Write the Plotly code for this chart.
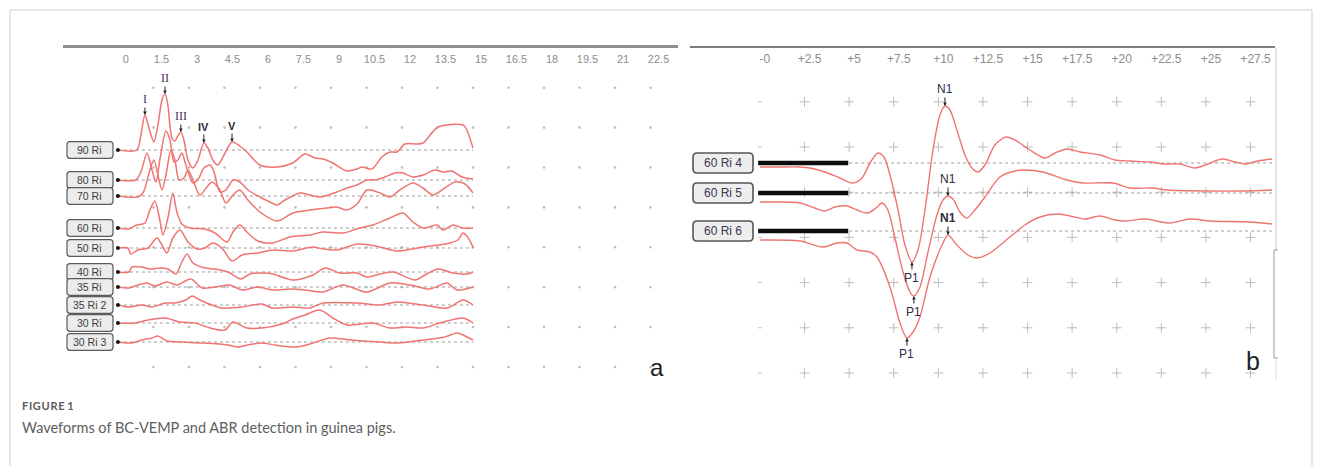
import numpy as np
import plotly.graph_objects as go

W, H = 1322, 466

# ---------------- Panel a: ABR waveforms ----------------
abr_names = ["90 Ri", "80 Ri", "70 Ri", "60 Ri", "50 Ri", "40 Ri", "35 Ri", "35 Ri 2", "30 Ri", "30 Ri 3"]
abr_offsets = [23.0, 20.0, 18.4, 15.2, 13.2, 10.8, 9.3, 7.5, 5.7, 3.8]

t_90 = [0.0, 0.80, 0.97, 1.14, 1.31, 1.52, 1.69, 1.86, 1.99, 2.11, 2.28, 2.41, 2.53, 2.66, 2.79, 2.96,
        3.17, 3.38, 3.63, 3.80, 4.01, 4.22, 4.48, 4.82, 5.15, 5.49, 6.00, 6.72, 7.39, 7.90, 8.32, 8.66,
        9.08, 9.67, 10.10, 10.31, 10.73, 11.15, 11.49, 11.79, 12.12, 12.63, 12.89, 13.52, 14.58, 14.74, 15.0]
a_90 = [0, 0, 1.5, 3.5, 2.2, 0.8, 2.5, 5.0, 5.6, 4.5, 1.2, 0.9, 1.4, 1.8, 1.0, -1.0,
        -1.8, -1.0, 0.7, 0.2, -1.0, -1.5, -0.5, 0.8, 0.4, -0.3, -1.5, -1.7, -1.3, -0.4, -0.8, -0.9,
        -1.3, -2.1, -1.9, -1.7, -1.9, -0.7, -0.2, -0.2, 0.6, 0.6, 0.7, 2.3, 2.5, 2.0, 0.2]

t_80 = [0.0, 0.76, 0.97, 1.23, 1.44, 1.61, 1.77, 2.03, 2.20, 2.37, 2.53, 2.70, 2.87, 3.17, 3.42, 3.63,
        3.89, 4.06, 4.31, 4.56, 4.86, 5.15, 5.49, 6.00, 6.42, 6.72, 7.06, 7.69, 8.11, 8.53, 9.25, 9.67,
        10.10, 10.52, 10.86, 11.28, 11.70, 12.04, 12.46, 12.89, 13.39, 13.73, 14.11, 14.53, 15.0]
a_80 = [0, 0, 0.8, 2.7, 1.0, -0.2, 2.0, 4.9, 4.0, 1.8, 2.0, 2.7, 1.5, -0.3, 0.2, 1.2,
        1.5, 0.8, -1.2, -1.0, 0, -0.2, -1.0, -1.7, -2.2, -2.5, -2.0, -1.3, -1.5, -1.7, -1.2, -0.8,
        -0.5, 0, 0, 0.3, 0.7, 0.7, 0.3, 0.5, 1.0, 0.8, 0.9, 0.3, 0.1]

t_70 = [0.0, 0.84, 1.06, 1.35, 1.52, 1.69, 1.86, 2.03, 2.24, 2.41, 2.58, 2.79, 2.96, 3.17, 3.46, 3.76,
        3.97, 4.31, 4.56, 4.86, 5.15, 5.49, 6.00, 6.72, 7.39, 8.11, 8.83, 9.25, 9.67, 10.10, 10.52, 11.07,
        11.49, 11.91, 12.46, 12.89, 13.31, 13.81, 14.24, 14.66, 15.0]
a_70 = [0, -0.1, 0.3, 2.6, 3.6, 2.1, 0.6, 2.1, 4.6, 3.6, 1.6, 1.8, 2.6, 1.6, 0.1, 0.9,
        1.4, 0.6, -0.7, 0.1, 0.6, -0.4, -1.6, -2.5, -1.7, -1.4, -1.2, -1.1, -1.4, -0.8, 0.6, 0.3,
        -0.1, 0.6, 1.3, 0.8, 0.1, 0.8, 1.4, 1.2, 0.3]

t_60 = [0.0, 0.46, 0.80, 1.14, 1.35, 1.56, 1.77, 1.90, 2.11, 2.32, 2.49, 2.70, 3.04, 3.68, 4.10, 4.61,
        4.86, 5.15, 5.49, 5.91, 6.51, 7.27, 8.11, 8.66, 9.51, 10.22, 10.77, 11.49, 12.04, 12.46, 12.89, 13.48,
        13.73, 14.15, 14.58, 15.0]
a_60 = [0, -0.1, 0.3, 0.5, 1.8, 2.7, 0.8, -0.7, 1.0, 3.5, 1.6, 0.4, 0, -0.1, -0.5, -1.4,
        -0.4, 0.3, -0.5, -1.3, -1.5, -0.9, -0.7, -0.4, -0.5, 0, 0.3, 1.0, 1.5, 0.6, 0, 0.3,
        -0.2, 0.3, 0, 0]

t_50 = [0.0, 0.42, 0.55, 0.84, 1.27, 1.65, 1.86, 2.07, 2.32, 2.62, 2.96, 3.34, 3.68, 4.01, 4.39, 4.82,
        5.24, 5.91, 6.55, 7.39, 8.24, 8.66, 9.25, 10.10, 10.65, 11.07, 11.79, 12.89, 14.03, 14.36, 14.58, 14.74,
        15.0]
a_50 = [0, 0, -0.6, -0.2, 0, 1.0, 0.3, -0.5, 1.0, 1.8, 0.6, -0.1, 0, 0.5, 0, -1.3,
        -0.7, -0.5, -0.2, -0.3, 0.1, -0.1, -0.2, 0.4, 0.3, 0.1, -0.3, 0.1, 0.5, 0.8, 1.5, 1.2,
        0.1]

t_40 = [0.0, 0.46, 0.59, 1.01, 1.35, 1.77, 2.11, 2.45, 2.70, 2.92, 3.17, 3.68, 4.10, 4.65, 5.20, 5.58,
        6.21, 6.55, 7.39, 8.24, 8.75, 9.38, 10.10, 10.52, 11.07, 11.62, 12.55, 12.97, 13.52, 14.15, 14.74, 15.0]
a_40 = [0, 0, 0.5, 0.5, 0.3, 0.4, 0.3, -0.2, 1.0, 1.8, 0.9, 0.4, 0.3, 0, -0.7, -0.2,
        -0.1, -0.2, -0.8, -0.3, 0.4, -0.1, -0.1, -0.5, -0.2, 0, -0.8, -0.3, 0.3, -0.1, -0.2, 0]

t_35 = [0.0, 0.46, 0.84, 1.23, 1.56, 2.07, 2.49, 3.08, 3.55, 4.10, 4.73, 5.24, 5.91, 6.51, 7.27, 7.90,
        8.66, 9.51, 10.52, 11.49, 12.34, 13.18, 13.90, 14.32, 15.0]
a_35 = [0, -0.1, 0.2, 0.4, 0.1, 0.5, 0.2, 0.8, -0.1, 0, 0.2, -0.3, 0, -0.3, -0.2, -0.3,
        -0.5, 0.2, -0.5, 0.4, 0.2, -0.2, 0.4, -0.3, 0]

t_35b = [0.0, 0.46, 1.01, 1.44, 1.99, 2.41, 2.87, 3.13, 3.46, 3.97, 4.39, 5.24, 6.08, 6.51, 7.39, 8.11,
         8.66, 10.10, 11.07, 11.79, 12.89, 13.90, 14.58, 15.0]
a_35b = [0, -0.2, 0, -0.2, 0.2, 0.2, 0.5, 0.9, 0.5, 0, -0.3, -0.2, 0.1, -0.3, -0.2, -0.3,
         0.2, 0.2, 0, 0.3, 0, -0.3, 0.5, 0]

t_30 = [0.0, 0.72, 1.27, 1.99, 2.62, 3.25, 3.89, 4.52, 4.86, 5.45, 6.08, 6.93, 7.39, 7.90, 8.53, 9.08,
        9.67, 10.77, 11.49, 12.21, 12.89, 13.60, 14.58, 15.0]
a_30 = [0, 0, 0.3, 0.5, 0.1, 0, -0.5, -0.7, 0.1, -0.5, -0.5, -0.1, 0.4, 0.8, 1.3, 0.5,
        -0.2, 0, -0.5, -0.4, -0.5, 0, 0.5, 0]

t_30b = [0.0, 0.55, 1.01, 1.44, 1.69, 2.07, 2.70, 3.55, 4.65, 5.07, 5.49, 6.08, 6.63, 7.56, 8.11, 8.96,
         9.80, 11.07, 11.79, 12.89, 13.81, 14.32, 14.58, 15.0]
a_30b = [0, -0.1, 0.2, 0.4, 0.6, 0.1, 0, -0.1, -0.3, -0.5, -0.3, -0.1, -0.3, -0.5, -0.2, 0.4,
         0.2, 0, -0.1, 0.2, 0.5, 0.9, 0.7, 0.2]

abr_t = [t_90, t_80, t_70, t_60, t_50, t_40, t_35, t_35b, t_30, t_30b]
abr_a = [a_90, a_80, a_70, a_60, a_50, a_40, a_35, a_35b, a_30, a_30b]

abr_peaks = ["I", "II", "III", "IV", "V"]
abr_peak_lat = [1.14, 1.99, 2.66, 3.63, 4.82]

abr_ticks = [0, 1.5, 3, 4.5, 6, 7.5, 9, 10.5, 12, 13.5, 15, 16.5, 18, 19.5, 21, 22.5]
abr_ticktext = ["0", "1.5", "3", "4.5", "6", "7.5", "9", "10.5", "12", "13.5", "15",
                "16.5", "18", "19.5", "21", "22.5"]

# ---------------- Panel b: BC-VEMP waveforms ----------------
vemp_names = ["60 Ri 4", "60 Ri 5", "60 Ri 6"]
vemp_offsets = [21.7, 18.7, 14.9]

t_v4 = [0, 1.12, 2.24, 2.80, 3.64, 4.48, 5.21, 5.72, 6.17, 6.61, 6.95, 7.29, 7.74, 8.13, 8.52, 8.86,
        9.25, 9.70, 10.09, 10.37, 10.65, 11.04, 11.49, 11.88, 12.22, 12.61, 13.17, 13.79, 14.29, 15.13,
        15.98, 16.54, 17.21, 17.94, 19.06, 19.90, 20.74, 21.86, 22.70, 23.54, 24.38, 25.11, 25.90, 26.63,
        27.19, 27.91, 28.70]
a_v4 = [-0.4, -0.4, -0.4, -0.5, -0.9, -1.5, -2.0, -1.5, 0.0, 1.0, 0.6, -1.2, -4.7, -8.2, -9.9, -8.7,
        -4.7, 1.3, 4.8, 5.7, 5.3, 3.3, 0.8, -0.5, -0.9, -0.2, 1.8, 2.6, 2.3, 1.3,
        0.5, 1.0, 1.4, 1.1, 0.8, 0.3, 0.2, 0.1, -0.1, -0.1, -0.5, -0.1, 0.4, 0.1,
        -0.1, 0.2, 0.4]

t_v5 = [0, 1.12, 2.24, 3.08, 3.64, 4.20, 4.88, 5.44, 6.05, 6.50, 6.84, 7.17, 7.57, 8.02, 8.41, 8.63,
        8.97, 9.42, 9.92, 10.26, 10.54, 10.82, 11.21, 11.60, 12.05, 12.61, 13.45, 14.29, 14.85, 15.86,
        17.21, 18.11, 19.79, 20.74, 22.03, 22.81, 25.22, 26.91, 28.70]
a_v5 = [-0.9, -0.9, -1.0, -1.5, -1.8, -1.4, -1.3, -1.7, -2.0, -1.5, -1.0, -1.7, -4.5, -7.9, -9.9, -10.3,
        -9.4, -5.9, -2.2, -0.7, -0.3, -0.6, -1.9, -2.5, -1.7, -0.4, 1.6, 2.2, 2.3, 2.1,
        1.3, 1.0, 1.0, 0.5, 0.5, 0.3, 0.2, 0.2, 0.3]

t_v6 = [0, 2.24, 3.53, 4.32, 4.88, 5.44, 6.17, 6.56, 7.29, 7.85, 8.24, 8.58, 8.97, 9.53, 10.26, 10.54,
        11.04, 11.66, 12.16, 12.89, 14.01, 14.85, 15.70, 16.65, 17.38, 18.22, 19.06, 19.90, 20.46, 21.58,
        22.98, 24.10, 25.22, 27.47, 28.70]
a_v6 = [-0.9, -1.0, -1.6, -1.2, -1.2, -1.9, -2.1, -2.6, -5.6, -9.2, -10.7, -10.1, -8.6, -4.6, -1.2, -0.4,
        -1.4, -2.4, -2.7, -2.2, -0.6, 0.6, 1.4, 1.7, 1.5, 1.2, 1.5, 1.1, 1.0, 1.2,
        0.8, 1.2, 1.0, 0.9, 0.7]

vemp_t = [t_v4, t_v5, t_v6]
vemp_a = [a_v4, a_v5, a_v6]
vemp_p1_lat = [8.52, 8.63, 8.24]
vemp_n1_lat = [10.37, 10.54, 10.54]

vemp_ticks = [0, 2.5, 5, 7.5, 10, 12.5, 15, 17.5, 20, 22.5, 25, 27.5]
vemp_ticktext = ["-0", "+2.5", "+5", "+7.5", "+10", "+12.5", "+15", "+17.5", "+20", "+22.5", "+25", "+27.5"]

for ts, amps in zip(abr_t + vemp_t, abr_a + vemp_a):
    assert len(ts) == len(amps)

# ---------------- styling ----------------
WAVE = "#ef7472"
GRID = "#bdbdbd"
SANS = "Liberation Sans, Arial, sans-serif"


def py(p):
    return 1 - p / H


def rounded_box(hw, hh, r):
    return (f"M{-hw + r},{-hh} L{hw - r},{-hh} Q{hw},{-hh} {hw},{-hh + r} "
            f"L{hw},{hh - r} Q{hw},{hh} {hw - r},{hh} L{-hw + r},{hh} "
            f"Q{-hw},{hh} {-hw},{hh - r} L{-hw},{-hh + r} Q{-hw},{-hh} {-hw + r},{-hh} Z")


fig = go.Figure()

# grid dots (panel a)
cols_a = np.arange(1.5, 22.51, 1.5)
rows_a = 1.3 + 3.99 * np.arange(8)
gx, gy = np.meshgrid(cols_a, rows_a)
fig.add_trace(go.Scatter(x=gx.ravel(), y=gy.ravel(), mode="markers", xaxis="x", yaxis="y",
                         marker=dict(size=2.6, color=GRID), hoverinfo="skip", showlegend=False))

# grid crosses (panel b)
cols_b = np.arange(2.5, 27.51, 2.5)
rows_b = 0.7 + 4.52 * np.arange(7)
gx, gy = np.meshgrid(cols_b, rows_b)
fig.add_trace(go.Scatter(x=gx.ravel(), y=gy.ravel(), mode="markers", xaxis="x2", yaxis="y2",
                         marker=dict(symbol="cross-thin", size=7, line=dict(width=1, color="#bcbcbc")),
                         hoverinfo="skip", showlegend=False))
fig.add_trace(go.Scatter(x=np.zeros(len(rows_b)), y=rows_b, mode="markers", xaxis="x2", yaxis="y2",
                         marker=dict(symbol="line-ew", size=3, line=dict(width=1, color="#c4c4c4")),
                         hoverinfo="skip", showlegend=False))

# ABR baselines, waveforms, start dots
for off in abr_offsets:
    fig.add_trace(go.Scatter(x=[0, 15], y=[off, off], mode="lines", xaxis="x", yaxis="y",
                             line=dict(color="#9c9c9c", width=1, dash="3px,3px"),
                             hoverinfo="skip", showlegend=False))
for name, off, ts, amps in zip(abr_names, abr_offsets, abr_t, abr_a):
    fig.add_trace(go.Scatter(x=ts, y=np.array(amps) + off, mode="lines", name=name,
                             xaxis="x", yaxis="y",
                             line=dict(color=WAVE, width=1.5, shape="spline", smoothing=0.8),
                             showlegend=False))
fig.add_trace(go.Scatter(x=[0] * len(abr_offsets), y=abr_offsets, mode="markers", xaxis="x", yaxis="y",
                         marker=dict(size=4, color="#111"), hoverinfo="skip", showlegend=False))

# VEMP baselines (stimulus bar + dashed reference) and waveforms
for off in vemp_offsets:
    fig.add_trace(go.Scatter(x=[5, 28.7], y=[off, off], mode="lines", xaxis="x2", yaxis="y2",
                             line=dict(color="#9c9c9c", width=1, dash="3px,3px"),
                             hoverinfo="skip", showlegend=False))
for name, off, ts, amps in zip(vemp_names, vemp_offsets, vemp_t, vemp_a):
    fig.add_trace(go.Scatter(x=ts, y=np.array(amps) + off, mode="lines", name=name,
                             xaxis="x2", yaxis="y2",
                             line=dict(color=WAVE, width=1.4, shape="spline", smoothing=0.8),
                             showlegend=False))
for off in vemp_offsets:
    fig.add_trace(go.Scatter(x=[-0.1, 4.95], y=[off, off], mode="lines", xaxis="x2", yaxis="y2",
                             line=dict(color="#0d0d0d", width=4.5),
                             hoverinfo="skip", showlegend=False))

shapes = []
annotations = []

# channel name boxes
for name, off in zip(abr_names, abr_offsets):
    shapes.append(dict(type="path", xref="x", yref="y", xsizemode="pixel", ysizemode="pixel",
                       xanchor=-1.18, yanchor=off, path=rounded_box(23, 8.3, 3),
                       fillcolor="#ececec", line=dict(color="#5b5b5b", width=1.2), layer="above"))
    annotations.append(dict(x=-1.18, y=off, xref="x", yref="y", text=name, showarrow=False,
                            font=dict(family=SANS, size=10.5, color="#3c3c3c")))
for name, off in zip(vemp_names, vemp_offsets):
    shapes.append(dict(type="path", xref="x2", yref="y2", xsizemode="pixel", ysizemode="pixel",
                       xanchor=-2.07, yanchor=off, path=rounded_box(30, 10, 4),
                       fillcolor="#eeeeee", line=dict(color="#555555", width=1.6), layer="above"))
    annotations.append(dict(x=-2.07, y=off, xref="x2", yref="y2", text=name, showarrow=False,
                            font=dict(family=SANS, size=12, color="#3b3550")))

# ABR wave markers I-V on the top recording
for k, (nm, lat) in enumerate(zip(abr_peaks, abr_peak_lat)):
    yv = float(np.interp(lat, t_90, a_90)) + abr_offsets[0]
    if k < 3:
        font = dict(family="Liberation Serif, serif", size=12, color="#4b2a5f")
        txt = nm
    else:
        font = dict(family=SANS, size=11, color="#2b2b3b")
        txt = f"<b>{nm}</b>"
    annotations.append(dict(x=lat, y=yv, xref="x", yref="y", text=txt, showarrow=True,
                            ax=0, ay=-16, arrowhead=2, arrowsize=0.7, arrowwidth=1,
                            arrowcolor="#222", standoff=0, font=font))

# VEMP P1 / N1 markers
for i, (off, ts, amps) in enumerate(zip(vemp_offsets, vemp_t, vemp_a)):
    n1 = vemp_n1_lat[i]
    p1 = vemp_p1_lat[i]
    yn = float(np.interp(n1, ts, amps)) + off
    yp = float(np.interp(p1, ts, amps)) + off
    ntxt = "<b>N1</b>" if i == 2 else "N1"
    annotations.append(dict(x=n1, y=yn, xref="x2", yref="y2", text=ntxt, showarrow=True,
                            ax=0, ay=-17, arrowhead=2, arrowsize=0.7, arrowwidth=1,
                            arrowcolor="#222", standoff=0,
                            font=dict(family=SANS, size=12, color="#2e2a44")))
    annotations.append(dict(x=p1, y=yp, xref="x2", yref="y2", text="P1", showarrow=True,
                            ax=0, ay=16, arrowhead=2, arrowsize=0.7, arrowwidth=1,
                            arrowcolor="#222", standoff=0,
                            font=dict(family=SANS, size=12, color="#2e2a44")))

# panel letters
annotations.append(dict(x=657 / W, y=py(367), xref="paper", yref="paper", xanchor="center",
                        yanchor="middle", text="a", showarrow=False,
                        font=dict(family=SANS, size=24, color="#1e1e1e")))
annotations.append(dict(x=1253 / W, y=py(361), xref="paper", yref="paper", xanchor="center",
                        yanchor="middle", text="b", showarrow=False,
                        font=dict(family=SANS, size=25, color="#1e1e1e")))

# caption
annotations.append(dict(x=20 / W, y=py(405), xref="paper", yref="paper", xanchor="left",
                        yanchor="middle", text="<b>F I G U R E  1</b>".replace(" ", "\u200a").replace("\u200a\u200a", " "),
                        showarrow=False,
                        font=dict(family="Lato, Open Sans, sans-serif", size=11, color="#5a5a5a")))
annotations.append(dict(x=20 / W, y=py(427), xref="paper", yref="paper", xanchor="left",
                        yanchor="middle",
                        text="Waveforms of BC-VEMP and ABR detection in guinea pigs.", showarrow=False,
                        font=dict(family="Lato, Open Sans, sans-serif", size=14.5, color="#5e5e5e")))

# outer frame
frame = "#cfcfcf"
shapes += [
    dict(type="line", xref="paper", yref="paper", x0=10 / W, x1=1312 / W, y0=py(10), y1=py(10),
         line=dict(color=frame, width=1)),
    dict(type="line", xref="paper", yref="paper", x0=10 / W, x1=10 / W, y0=py(10), y1=0,
         line=dict(color=frame, width=1)),
    dict(type="line", xref="paper", yref="paper", x0=1312 / W, x1=1312 / W, y0=py(10), y1=0,
         line=dict(color=frame, width=1)),
    # right edge of panel b
    dict(type="line", xref="paper", yref="paper", x0=1276 / W, x1=1276 / W, y0=py(48), y1=py(250),
         line=dict(color="#cacaca", width=1)),
    dict(type="path", xref="paper", yref="paper",
         path=f"M{1278 / W},{py(250)} L{1274 / W},{py(250)} L{1274 / W},{py(358)} L{1278 / W},{py(358)}",
         line=dict(color="#9a9a9a", width=1)),
    dict(type="line", xref="paper", yref="paper", x0=1276 / W, x1=1276 / W, y0=py(358), y1=py(380),
         line=dict(color="#d8d8d8", width=1)),
]

ydom = [py(380), py(48)]
fig.update_layout(
    width=W, height=H, margin=dict(l=0, r=0, t=0, b=0),
    paper_bgcolor="white", plot_bgcolor="white", showlegend=False,
    xaxis=dict(domain=[63 / W, 678 / W], range=[-2.32, 23.66], side="top", anchor="y",
               showline=True, linecolor="#8f8f8f", linewidth=2.5, ticks="",
               tickvals=abr_ticks, ticktext=abr_ticktext, ticklabelposition="inside",
               ticklabelshift=8, ticklabelstandoff=7,
               tickfont=dict(family=SANS, size=11, color="#8c8c8c"),
               showgrid=False, zeroline=False, fixedrange=True),
    yaxis=dict(domain=ydom, range=[0, 33.2], visible=False, anchor="x", fixedrange=True),
    xaxis2=dict(domain=[690 / W, 1275 / W], range=[-3.92, 28.87], side="top", anchor="y2",
                showline=True, linecolor="#7d7d7d", linewidth=1.6, ticks="",
                tickvals=vemp_ticks, ticktext=vemp_ticktext, ticklabelposition="inside",
                ticklabelshift=5, ticklabelstandoff=6,
                tickfont=dict(family=SANS, size=12, color="#8c8c8c"),
                showgrid=False, zeroline=False, fixedrange=True),
    yaxis2=dict(domain=ydom, range=[0, 33.2], visible=False, anchor="x2", fixedrange=True),
    shapes=shapes,
    annotations=annotations,
)

fig.write_html("out.html")
